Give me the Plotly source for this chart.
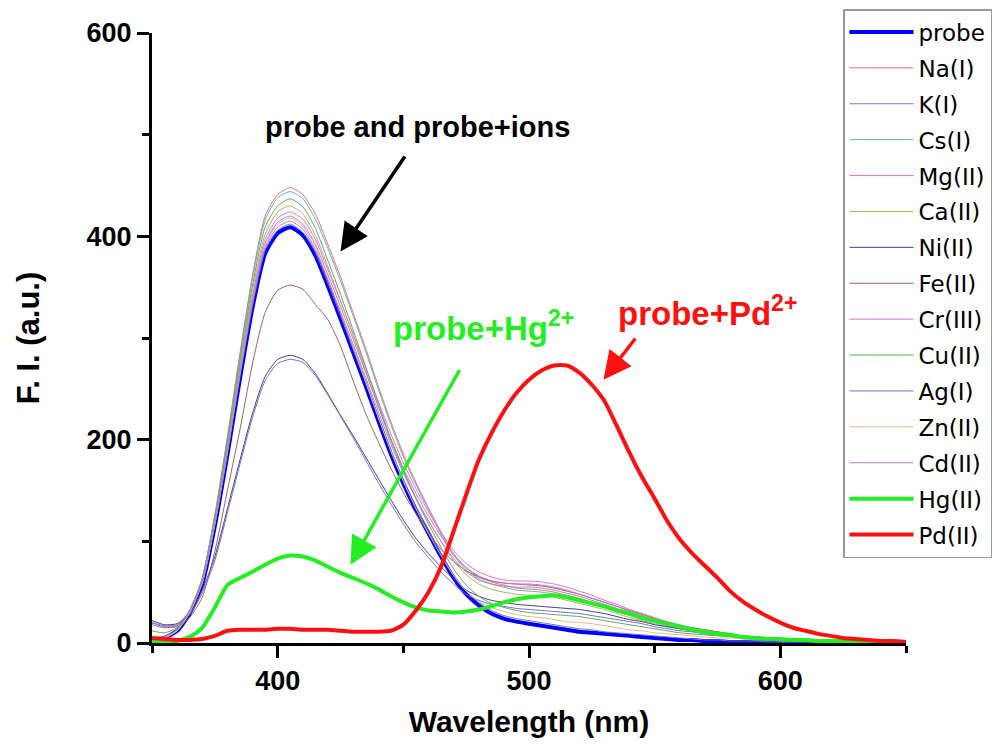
import plotly.graph_objects as go

# Emission spectra of the probe alone and with each metal ion (F.I. in a.u.)
wavelength = list(range(350, 655, 5))

probe = [3, 5, 12, 29, 58, 115, 185, 260, 330, 383, 403,
         409, 401, 381, 351, 319, 286, 253, 219, 186, 157, 131,
         108, 85, 64, 48, 37, 29, 24, 21, 19, 17, 15,
         13, 11, 10, 9, 8, 7, 6, 5, 4, 3, 3,
         2, 2, 1, 1, 1, 1, 1, 1, 0, 0, 0,
         0, 0, 0, 0, 0, 0]
na = [4, 5, 13, 32, 64, 126, 203, 285, 362, 420, 441,
      448, 441, 422, 392, 360, 325, 290, 253, 218, 186, 158,
      133, 109, 88, 74, 65, 60, 57, 54, 53, 52, 50,
      47, 44, 40, 36, 32, 28, 24, 21, 18, 15, 13,
      11, 9, 8, 6, 5, 4, 4, 3, 3, 2, 2,
      2, 1, 1, 1, 1, 1]
k = [18, 15, 17, 31, 59, 116, 186, 262, 332, 386, 406,
     412, 404, 384, 354, 322, 289, 256, 222, 189, 160, 134,
     111, 88, 67, 51, 40, 32, 27, 24, 22, 20, 18,
     16, 14, 13, 11, 10, 9, 8, 7, 6, 5, 4,
     3, 3, 2, 2, 2, 1, 1, 1, 1, 1, 0,
     0, 0, 0, 0, 0, 0]
cs = [5, 6, 13, 31, 63, 125, 201, 283, 359, 416, 438,
      444, 437, 417, 388, 356, 322, 287, 250, 215, 183, 156,
      131, 107, 86, 72, 63, 58, 55, 52, 51, 50, 48,
      45, 42, 38, 35, 31, 27, 23, 20, 17, 14, 12,
      10, 9, 7, 6, 5, 4, 3, 3, 2, 2, 2,
      1, 1, 1, 1, 1, 0]
mg = [5, 6, 13, 30, 60, 119, 192, 270, 342, 397, 418,
      424, 417, 397, 367, 336, 304, 271, 238, 206, 177, 152,
      129, 109, 91, 78, 70, 65, 62, 61, 61, 60, 58,
      55, 51, 47, 42, 38, 33, 29, 25, 21, 18, 15,
      13, 11, 9, 7, 6, 5, 4, 3, 3, 2, 2,
      2, 1, 1, 1, 1, 1]
ca = [4, 5, 13, 30, 61, 121, 195, 273, 347, 402, 424,
      430, 422, 401, 370, 337, 303, 268, 233, 199, 169, 143,
      120, 100, 81, 67, 58, 53, 50, 48, 47, 47, 45,
      42, 39, 36, 33, 29, 25, 22, 19, 16, 14, 12,
      10, 8, 7, 6, 5, 4, 3, 3, 2, 2, 1,
      1, 1, 1, 1, 0, 0]
ni = [22, 18, 19, 30, 52, 85, 132, 180, 226, 262, 279,
      283, 279, 265, 245, 224, 204, 183, 162, 141, 121, 103,
      88, 75, 63, 52, 46, 42, 40, 38, 37, 36, 35,
      34, 33, 31, 29, 26, 23, 21, 18, 16, 14, 12,
      10, 9, 8, 7, 6, 5, 4, 3, 3, 2, 2,
      1, 1, 1, 1, 1, 0]
fe = [20, 16, 16, 25, 45, 90, 150, 210, 275, 325, 347,
      352, 348, 333, 318, 292, 258, 226, 198, 172, 148, 127,
      108, 92, 80, 71, 65, 61, 59, 58, 57, 56, 54,
      51, 48, 44, 40, 36, 32, 28, 24, 20, 17, 15,
      13, 11, 9, 7, 6, 5, 4, 3, 3, 2, 2,
      2, 1, 1, 1, 1, 1]
cr = [4, 5, 12, 30, 60, 118, 190, 267, 339, 393, 414,
      420, 412, 392, 362, 331, 299, 266, 233, 201, 172, 147,
      125, 105, 87, 74, 66, 61, 59, 58, 58, 57, 55,
      52, 48, 44, 40, 36, 31, 27, 23, 20, 17, 14,
      12, 10, 8, 7, 6, 5, 4, 3, 3, 2, 2,
      1, 1, 1, 1, 1, 1]
cu = [12, 10, 15, 32, 62, 123, 198, 278, 352, 409, 430,
      437, 429, 408, 376, 343, 308, 272, 236, 201, 170, 142,
      117, 94, 73, 57, 46, 39, 35, 32, 30, 29, 28,
      27, 26, 24, 22, 20, 18, 16, 14, 12, 10, 9,
      8, 7, 6, 5, 4, 3, 3, 2, 2, 2, 1,
      1, 1, 1, 1, 0, 0]
ag = [20, 17, 18, 28, 49, 81, 128, 176, 222, 258, 275,
      279, 276, 263, 244, 223, 202, 180, 158, 137, 117, 99,
      84, 70, 58, 48, 42, 38, 36, 34, 33, 32, 31,
      30, 29, 27, 25, 23, 21, 19, 16, 14, 12, 11,
      9, 8, 7, 6, 5, 4, 3, 3, 2, 2, 1,
      1, 1, 1, 1, 0, 0]
zn = [4, 5, 12, 30, 59, 117, 189, 266, 337, 391, 412,
      418, 410, 389, 358, 325, 291, 257, 222, 189, 159, 132,
      108, 86, 66, 51, 41, 35, 31, 28, 26, 25, 23,
      21, 20, 19, 17, 15, 13, 12, 10, 9, 8, 7,
      6, 5, 5, 4, 3, 3, 2, 2, 2, 1, 1,
      1, 1, 1, 0, 0, 0]
cd = [20, 16, 18, 32, 60, 117, 188, 264, 335, 389, 409,
      415, 407, 387, 357, 326, 294, 261, 228, 196, 167, 142,
      120, 100, 83, 70, 62, 58, 56, 55, 55, 54, 52,
      49, 46, 42, 38, 34, 30, 26, 22, 19, 16, 14,
      12, 10, 8, 7, 6, 5, 4, 3, 3, 2, 2,
      1, 1, 1, 1, 1, 1]
hg = [1, 1, 2, 6, 15, 35, 57, 64, 70, 77, 83,
      86, 85, 81, 75, 69, 64, 59, 53, 46, 40, 35,
      32, 31, 30, 31, 33, 36, 40, 43, 45, 46, 47,
      45, 42, 39, 36, 32, 29, 25, 22, 19, 16, 13,
      11, 9, 8, 6, 5, 4, 4, 3, 3, 2, 2,
      2, 1, 1, 1, 1, 1]
pd_ = [5, 4, 3, 3, 4, 7, 12, 13, 13, 13, 14,
       14, 13, 13, 13, 12, 11, 11, 11, 12, 18, 32,
       50, 75, 110, 146, 180, 206, 228, 246, 259, 268, 273,
       273, 266, 254, 238, 213, 187, 163, 142, 120, 102, 88,
       76, 64, 51, 41, 33, 26, 20, 15, 12, 9, 7,
       5, 4, 3, 2, 2, 1]

series_names = ["probe", "Na(I)", "K(I)", "Cs(I)", "Mg(II)", "Ca(II)", "Ni(II)",
                "Fe(II)", "Cr(III)", "Cu(II)", "Ag(I)", "Zn(II)", "Cd(II)",
                "Hg(II)", "Pd(II)"]
series_values = [probe, na, k, cs, mg, ca, ni, fe, cr, cu, ag, zn, cd, hg, pd_]
series_colors = ["#0000ff", "#e8706f", "#7777bb", "#66b0b0", "#e070e0", "#b0b060",
                 "#404088", "#a06060", "#d070c0", "#60a860", "#7070d0", "#e8b888",
                 "#b080c8", "#22ee22", "#ff1010"]
series_widths = [4, 1, 1, 1, 1, 1, 1, 1, 1, 1, 1, 1, 1, 4, 4]

fig = go.Figure()
for i, (name, vals, col, w) in enumerate(zip(series_names, series_values,
                                             series_colors, series_widths)):
    fig.add_trace(go.Scatter(
        x=wavelength, y=vals, mode="lines", name=name,
        line=dict(color=col, width=w, shape="spline", smoothing=0.6),
        legendgroup=f"g{i}",
    ))

bold = dict(family="Arial, Liberation Sans, sans-serif", weight="bold")

axis_common = dict(
    showline=True, linecolor="black", linewidth=3, mirror=False,
    ticks="outside", ticklen=12, tickwidth=3, tickcolor="black",
    showgrid=False, zeroline=False, automargin=False,
    tickfont=dict(size=27, color="black", **bold),
)

fig.update_layout(
    width=997, height=751,
    margin=dict(l=152, r=91, t=33, b=108, autoexpand=False),
    paper_bgcolor="white", plot_bgcolor="white",
    font=dict(family="Arial, Liberation Sans, sans-serif", color="black"),
    showlegend=True,
    legend=dict(
        xref="container", yref="container",
        x=843 / 997, y=1 - 9 / 751, xanchor="left", yanchor="top",
        bordercolor="#999999", borderwidth=1.5, bgcolor="white",
        font=dict(size=23, color="black", family="DejaVu Sans, sans-serif"),
        tracegroupgap=3, itemwidth=64, maxheight=720,
    ),
    xaxis=dict(
        range=[350, 650], dtick=100, tick0=0,
        minor=dict(dtick=50, ticklen=7, tickwidth=3, ticks="outside", tickcolor="black"),
        title=dict(text="Wavelength (nm)", font=dict(size=30, color="black", **bold), standoff=16),
        **axis_common,
    ),
    yaxis=dict(
        range=[0, 600], dtick=200, tick0=0,
        minor=dict(dtick=100, ticklen=7, tickwidth=3, ticks="outside", tickcolor="black"),
        title=dict(text="F. I. (a.u.)", font=dict(size=31, color="black", **bold), standoff=38),
        **axis_common,
    ),
)

# Labels for the groups of spectra
fig.add_annotation(x=455.6, y=508, xref="x", yref="y", text="probe and probe+ions",
                   showarrow=False, font=dict(size=29, color="black", **bold))
fig.add_annotation(x=482, y=312, xref="x", yref="y", text="probe+Hg<sup>2+</sup>",
                   showarrow=False, font=dict(size=33, color="#22ee22", **bold))
fig.add_annotation(x=571, y=327, xref="x", yref="y", text="probe+Pd<sup>2+</sup>",
                   showarrow=False, font=dict(size=33, color="#ff1010", **bold))

# Arrows pointing at the spectra
arrows = [
    (451, 480, 425, 385, "black"),
    (472.7, 270, 429, 77, "#22ee22"),
    (542.8, 301, 529.6, 259, "#ff1010"),
]
for ax0, ay0, x1, y1, col in arrows:
    fig.add_annotation(x=x1, y=y1, ax=ax0, ay=ay0, xref="x", yref="y",
                       axref="x", ayref="y", text="", showarrow=True,
                       arrowhead=2, arrowsize=1.6, arrowwidth=3.5, arrowcolor=col)

fig.write_html("out.html")
